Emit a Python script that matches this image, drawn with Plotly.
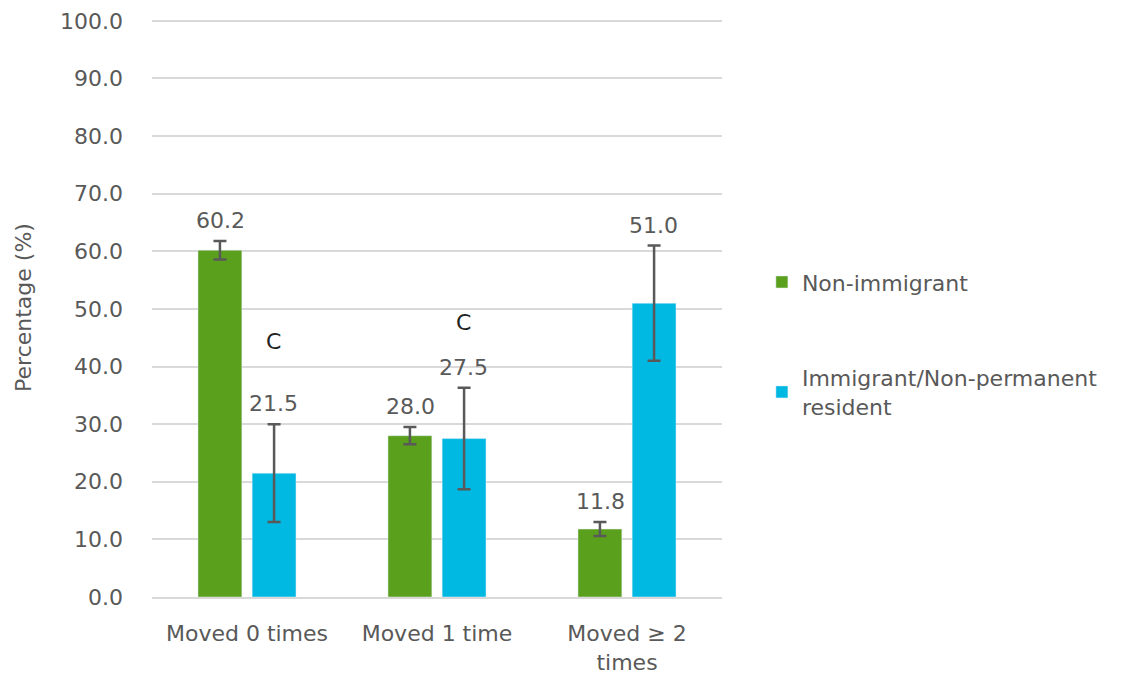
import plotly.graph_objects as go

categories = ["Moved 0 times", "Moved 1 time", "Moved ≥ 2<br>times"]
non_immigrant = [60.2, 28.0, 11.8]
non_immigrant_err = [1.6, 1.5, 1.2]
immigrant = [21.5, 27.5, 51.0]
immigrant_err = [8.5, 8.8, 10.0]
flags = ["C", "C", ""]
flag_y = [44.4, 47.6, None]
y_ticks = [0, 10, 20, 30, 40, 50, 60, 70, 80, 90, 100]

GREEN = "#5aa01c"
BLUE = "#00b9e3"
GRAY = "#595959"
FONT = "DejaVu Sans"
FS = 22
BAR_OFFSET = 0.142

fig = go.Figure()
fig.add_trace(go.Bar(
    x=categories, y=non_immigrant, name="Non-immigrant",
    marker_color=GREEN, legendgroup="a",
    error_y=dict(type="data", array=non_immigrant_err, color=GRAY, thickness=2.5, width=6.5),
))
fig.add_trace(go.Bar(
    x=categories, y=immigrant, name="Immigrant/Non-permanent<br>resident",
    marker_color=BLUE, legendgroup="b",
    error_y=dict(type="data", array=immigrant_err, color=GRAY, thickness=2.5, width=6.5),
))

# value labels above error bars
for trace_idx, (vals, errs) in enumerate([(non_immigrant, non_immigrant_err), (immigrant, immigrant_err)]):
    offset = -BAR_OFFSET if trace_idx == 0 else BAR_OFFSET
    for i, (v, e) in enumerate(zip(vals, errs)):
        fig.add_annotation(
            x=i + offset, y=v + e, xref="x", yref="y",
            text=f"{v:.1f}", showarrow=False, yanchor="bottom", yshift=6,
            font=dict(family=FONT, size=FS, color=GRAY),
        )

for i, (f, fy) in enumerate(zip(flags, flag_y)):
    if f:
        fig.add_annotation(
            x=i + BAR_OFFSET, y=fy, xref="x", yref="y", text=f, showarrow=False,
            font=dict(family=FONT, size=FS, color="#222222"),
        )

fig.update_layout(
    width=1135, height=678,
    margin=dict(l=144, r=421, t=10, b=89),
    paper_bgcolor="white", plot_bgcolor="white",
    barmode="group", bargap=0.43, bargroupgap=0.19,
    font=dict(family=FONT, size=FS, color=GRAY),
    legend=dict(
        x=1.07, y=0.58, xanchor="left", yanchor="top",
        traceorder="grouped", tracegroupgap=64,
        font=dict(family=FONT, size=FS, color=GRAY),
        itemwidth=30,
    ),
    showlegend=True,
)
fig.update_xaxes(
    type="category", tickfont=dict(family=FONT, size=FS, color=GRAY),
    showline=True, linecolor="#d9d9d9", linewidth=1.5, ticks="",
    showgrid=False, ticklabelstandoff=16,
)
fig.update_yaxes(
    range=[0, 100.5], tickvals=y_ticks, tickformat=".1f", automargin=False,
    showgrid=True, gridcolor="#d9d9d9", gridwidth=1.5,
    zeroline=False, ticks="", ticklabelstandoff=28,
    tickfont=dict(family=FONT, size=FS, color=GRAY),
    title=dict(text="Percentage (%)", font=dict(family=FONT, size=FS, color=GRAY), standoff=22),
)

fig.write_html("out.html")
